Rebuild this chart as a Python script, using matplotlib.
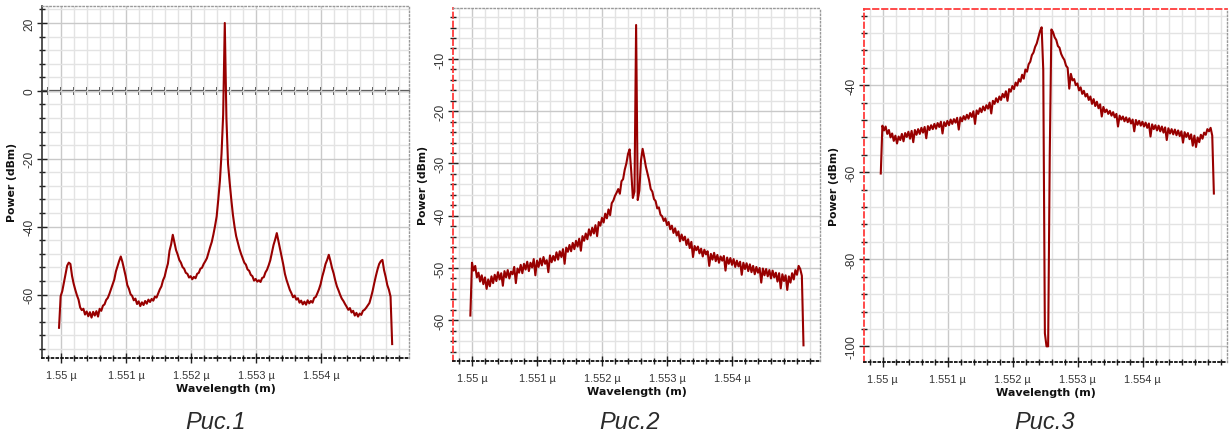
import numpy as np
import matplotlib
matplotlib.use('Agg')
import matplotlib.pyplot as plt
from matplotlib.ticker import MultipleLocator, FixedLocator, NullFormatter

plt.rcParams['font.family'] = ['Liberation Sans', 'DejaVu Sans']
plt.rcParams['axes.unicode_minus'] = False

# ---------------- data ----------------
wl_start_um = 1.54997      # first sample wavelength (µm)
wl_step_um = 0.000025      # sample spacing (µm)

power_fig1 = [
    -69.8, -60.5, -59.0, -56.5, -54.0, -51.5, -50.6, -51.0, -54.5, -56.8,
    -58.6, -60.2, -61.5, -63.8, -64.6, -64.2, -65.9, -65.0, -66.4, -65.2,
    -66.8, -65.1, -66.2, -64.9, -66.5, -64.2, -64.8, -63.3, -62.9, -61.6,
    -61.0, -59.8, -58.4, -56.9, -55.6, -53.2, -51.6, -50.1, -48.8, -50.4,
    -52.5, -54.6, -57.2, -58.3, -59.9, -60.4, -61.7, -61.2, -62.8, -62.0,
    -63.4, -62.3, -63.1, -61.9, -62.7, -61.5, -62.2, -61.3, -61.8, -60.6,
    -60.9, -59.7, -58.5, -57.6, -55.8, -54.7, -52.6, -50.9, -47.1, -45.2,
    -42.4, -44.6, -46.9, -48.2, -49.8, -50.6, -51.9, -52.4, -53.6, -53.9,
    -55.0, -54.6, -55.5, -54.8, -55.2, -53.9, -53.6, -52.4, -52.1, -51.0,
    -50.2, -49.3, -47.6, -46.0, -44.5, -42.3, -39.8, -37.0, -32.0, -26.5,
    -18.5, -7.0, 20.0, -8.0, -21.5, -27.0, -32.0, -36.5, -40.0, -42.8,
    -44.6, -46.5, -48.0, -49.3, -50.6, -51.2, -52.6, -53.0, -54.2, -54.6,
    -55.9, -55.4, -56.2, -55.8, -56.3, -55.1, -54.9, -53.5, -52.7, -51.4,
    -49.9, -47.6, -45.4, -43.8, -41.9, -44.2, -46.5, -48.8, -51.2, -53.9,
    -55.7, -57.1, -58.6, -59.6, -60.8, -60.3, -61.5, -61.1, -62.4, -61.8,
    -62.9, -62.1, -63.0, -61.7, -62.6, -61.9, -62.4, -61.0, -60.7, -59.6,
    -58.4, -56.9, -54.7, -53.0, -51.0, -49.8, -48.3, -50.1, -52.2, -53.8,
    -55.9, -57.6, -58.8, -60.1, -61.2, -61.9, -62.8, -63.6, -64.5, -64.0,
    -65.3, -64.8, -66.2, -65.4, -66.5, -65.6, -66.0, -64.8, -64.5, -63.9,
    -63.2, -62.5, -60.8, -58.9, -56.6, -54.5, -52.6, -51.0, -50.2, -49.8,
    -52.8, -54.8, -57.2, -58.6, -60.6, -74.6,
]

power_fig2 = [
    -59.1, -49.0, -50.5, -49.6, -51.8, -50.9, -52.6, -51.4, -53.1, -51.8,
    -54.0, -52.2, -53.5, -51.6, -52.9, -51.3, -52.5, -50.8, -52.2, -51.0,
    -53.4, -50.6, -51.8, -50.4, -52.0, -50.7, -51.2, -49.8, -52.9, -50.1,
    -50.9, -49.4, -51.0, -49.2, -50.3, -48.8, -50.6, -49.0, -49.9, -48.3,
    -51.4, -48.6, -49.8, -48.2, -49.5, -47.9, -49.2, -48.5, -50.8, -47.6,
    -48.9, -47.7, -48.6, -47.0, -48.4, -46.8, -47.9, -46.4, -49.2, -46.1,
    -46.9, -45.6, -46.8, -45.2, -46.4, -44.8, -45.9, -44.4, -46.7, -43.9,
    -44.8, -43.4, -44.5, -42.6, -43.8, -42.3, -43.4, -41.8, -43.9, -41.2,
    -41.9, -40.4, -41.3, -39.6, -40.5, -38.8, -39.9, -37.6, -37.1, -36.2,
    -35.6, -34.9, -35.8, -33.4, -33.0, -31.2, -30.0, -28.2, -27.3, -31.5,
    -36.6, -35.4, -3.5, -37.0, -35.2, -29.4, -27.2, -28.8, -30.6, -31.9,
    -33.2, -34.9, -35.4, -36.8, -37.2, -38.6, -38.4, -39.8, -40.1, -41.0,
    -40.5, -41.8, -41.2, -42.6, -41.9, -43.3, -42.4, -43.8, -43.0, -44.9,
    -43.6, -44.7, -44.0, -45.6, -44.5, -46.2, -45.0, -47.9, -45.8, -46.6,
    -45.9, -47.2, -46.3, -47.8, -46.5, -47.4, -46.8, -49.6, -47.3, -48.4,
    -47.1, -48.7, -47.5, -49.0, -47.8, -48.6, -47.7, -50.5, -48.0, -49.2,
    -48.1, -49.4, -48.3, -49.8, -48.6, -49.7, -48.8, -51.3, -49.0, -50.2,
    -49.1, -50.6, -49.3, -50.8, -49.6, -51.2, -49.8, -50.9, -50.0, -52.8,
    -50.1, -51.4, -50.2, -51.6, -50.4, -52.0, -50.5, -51.8, -50.9, -52.6,
    -51.0, -53.9, -51.2, -52.5, -51.4, -54.2, -51.6, -52.8, -51.0, -52.2,
    -50.4, -51.3, -49.6, -50.2, -51.5, -64.8,
]

power_fig3 = [
    -60.3, -49.3, -50.4, -49.5, -51.2, -50.3, -52.0, -51.1, -52.8, -51.6,
    -53.4, -51.8, -52.6, -51.2, -52.9, -51.0, -51.9, -50.7, -52.3, -50.5,
    -53.1, -50.3, -51.4, -50.1, -51.2, -49.8, -50.9, -49.6, -52.2, -49.4,
    -50.3, -49.2, -50.1, -48.9, -50.0, -48.7, -49.6, -48.4, -51.1, -48.5,
    -49.4, -48.2, -49.2, -47.9, -48.9, -47.8, -48.6, -47.5, -50.2, -47.4,
    -48.3, -47.1, -47.9, -46.8, -47.7, -46.4, -47.3, -46.0, -48.9, -45.8,
    -46.6, -45.3, -46.2, -44.9, -45.8, -44.6, -45.4, -44.0, -46.5, -43.6,
    -44.3, -43.0, -43.9, -42.6, -43.4, -42.0, -42.8, -41.4, -43.6, -40.9,
    -41.5, -40.2, -40.9, -39.4, -40.1, -38.6, -39.2, -37.6, -38.5, -36.4,
    -36.9, -35.2, -34.6, -33.1, -32.5, -31.2, -30.4, -29.0, -27.6, -26.7,
    -36.5, -97.0, -100.0, -100.0, -56.0, -27.2, -27.8, -29.0, -29.6, -31.0,
    -31.4, -32.8, -33.6, -34.2, -35.5, -36.0, -40.8, -37.4, -38.9, -38.6,
    -40.0, -39.6, -41.2, -40.5, -42.0, -41.3, -42.6, -42.0, -43.4, -42.6,
    -44.3, -43.2, -44.8, -43.8, -45.3, -44.4, -47.2, -45.0, -46.2, -45.6,
    -46.6, -45.9, -47.0, -46.2, -47.4, -46.6, -49.5, -47.0, -47.9, -47.2,
    -48.3, -47.4, -48.5, -47.6, -48.8, -47.9, -50.6, -48.0, -49.1, -48.2,
    -49.3, -48.4, -49.5, -48.6, -49.8, -48.8, -51.8, -49.0, -50.1, -49.2,
    -50.4, -49.3, -50.6, -49.5, -50.9, -49.7, -52.6, -49.9, -51.1, -50.1,
    -51.3, -50.2, -51.5, -50.4, -51.7, -50.6, -53.2, -50.8, -51.9, -51.0,
    -52.4, -51.3, -53.9, -51.6, -54.2, -52.0, -53.1, -51.4, -52.3, -50.9,
    -51.4, -50.1, -50.6, -49.8, -51.6, -64.9,
]

x_tick_um = [1.550, 1.551, 1.552, 1.553, 1.554]
x_tick_labels = ['1.55 µ', '1.551 µ', '1.552 µ', '1.553 µ', '1.554 µ']
captions = ['Рис.1', 'Рис.2', 'Рис.3']
y_label = 'Power (dBm)'
x_label = 'Wavelength (m)'

# ---------------- layout ----------------
W, H = 1232, 435
fig = plt.figure(figsize=(W / 100, H / 100), dpi=100)

def fr(l, t, r, b):
    return [l / W, 1 - b / H, (r - l) / W, (b - t) / H]

panels = [
    dict(data=power_fig1, rect=fr(42, 7, 409, 359), xlim=(1.549708, 1.555354),
         ylim=(-78.7, 25.0), ymaj=20, ymin=4, red_left=False, red_top=False,
         zero_axis=True, cap_x=216),
    dict(data=power_fig2, rect=fr(453, 9, 820, 362), xlim=(1.549703, 1.555349),
         ylim=(-67.8, -0.25), ymaj=10, ymin=2, red_left=True, red_top=False,
         zero_axis=False, cap_x=630),
    dict(data=power_fig3, rect=fr(864, 10, 1227, 363), xlim=(1.549712, 1.555297),
         ylim=(-103.6, -22.5), ymaj=20, ymin=4, red_left=True, red_top=True,
         zero_axis=False, cap_x=1045),
]

line_color = '#980000'
tick_font = dict(family=['Liberation Sans', 'DejaVu Sans'], size=7.8, color='#333333')

for k, p in enumerate(panels):
    ax = fig.add_axes(p['rect'])
    y = np.array(p['data'])
    x = wl_start_um + wl_step_um * np.arange(len(y))
    ax.plot(x, y, color=line_color, lw=1.5, zorder=3)

    ax.set_xlim(*p['xlim'])
    ax.set_ylim(*p['ylim'])

    ax.xaxis.set_major_locator(FixedLocator(x_tick_um))
    ax.set_xticklabels(x_tick_labels, fontdict=tick_font)
    ax.xaxis.set_minor_locator(MultipleLocator(0.0002))
    ax.yaxis.set_major_locator(MultipleLocator(p['ymaj']))
    ax.yaxis.set_minor_locator(MultipleLocator(p['ymin']))
    for lbl in ax.get_yticklabels():
        lbl.set_fontfamily(['Liberation Sans', 'DejaVu Sans'])
        lbl.set_fontsize(8.6)
        lbl.set_color('#333333')
        lbl.set_rotation(90)
        lbl.set_va('center')

    ax.grid(which='minor', color='#e3e3e3', lw=1.0, zorder=0)
    ax.grid(which='major', color='#c9c9c9', lw=1.0, zorder=0)
    ax.set_axisbelow(True)

    ax.tick_params(axis='both', which='major', direction='inout', length=7,
                   width=1.0, color='#222222')
    ax.tick_params(axis='both', which='minor', direction='inout', length=4,
                   width=1.0, color='#222222')
    ax.tick_params(axis='x', which='major', pad=5)
    ax.tick_params(axis='y', which='major', pad=1)

    # spines
    for s in ['top', 'right']:
        ax.spines[s].set_color('#9a9a9a')
        ax.spines[s].set_linestyle(':')
        ax.spines[s].set_linewidth(1.0)
    ax.spines['bottom'].set_color('#111111')
    ax.spines['bottom'].set_linestyle(':')
    ax.spines['bottom'].set_linewidth(1.3)
    if p['red_left']:
        ax.spines['left'].set_color('#ff3b3b')
        ax.spines['left'].set_linestyle((0, (3, 2)))
        ax.spines['left'].set_linewidth(1.3)
    else:
        ax.spines['left'].set_color('#333333')
        ax.spines['left'].set_linewidth(1.2)
    if p['red_top']:
        ax.spines['top'].set_color('#ff3b3b')
        ax.spines['top'].set_linestyle((0, (3, 2)))
        ax.spines['top'].set_linewidth(1.3)

    if p['zero_axis']:
        y0, y1 = p['ylim']
        sec = ax.secondary_xaxis((0 - y0) / (y1 - y0))
        sec.xaxis.set_major_locator(MultipleLocator(0.0002))
        sec.xaxis.set_major_formatter(NullFormatter())
        sec.tick_params(direction='inout', length=6, width=1.2, color='#222222',
                        labelbottom=False, labeltop=False)
        for sp in sec.spines.values():
            sp.set_color('#444444')
            sp.set_linestyle('-')
            sp.set_linewidth(1.6)

    ax.set_xlabel(x_label, fontfamily=['DejaVu Sans'], fontweight='bold',
                  fontsize=8, color='#111111', labelpad=2.5)
    ax.set_ylabel(y_label, fontfamily=['DejaVu Sans'], fontweight='bold',
                  fontsize=7.8, color='#111111', labelpad=5)

    fig.text(p['cap_x'] / W, 1 - 423 / H, captions[k], ha='center', va='center',
             fontsize=17, style='italic', color='#2a2a2a',
             family=['Liberation Sans', 'DejaVu Sans'])

fig.savefig('out.png', dpi=100)
